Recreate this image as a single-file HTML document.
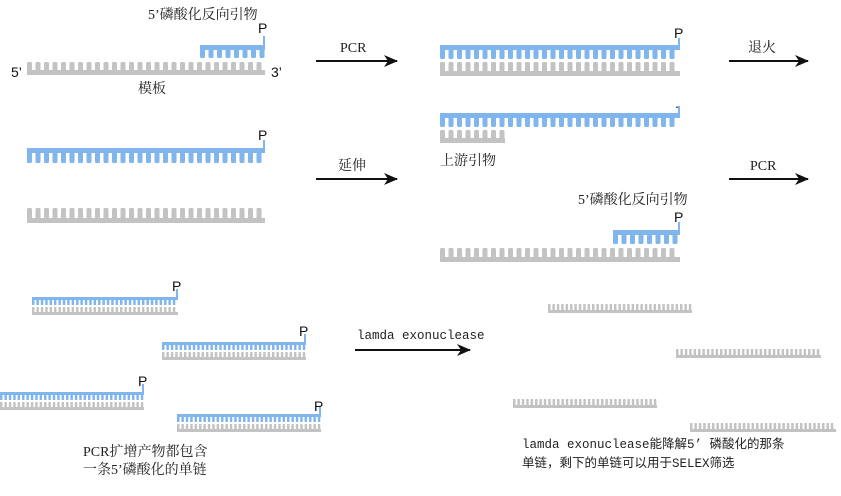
<!DOCTYPE html>
<html><head><meta charset="utf-8"><style>
html,body{margin:0;padding:0;background:#fff;width:841px;height:496px;overflow:hidden}
svg text{font-family:"Liberation Serif","Noto Serif CJK SC",serif;font-size:14px;fill:#222}
.p{font-family:"Liberation Sans",sans-serif;font-size:14px;fill:#111}
.m{font-family:"Liberation Mono","Noto Sans CJK SC",monospace;font-size:12.5px}
</style></head><body>
<svg id="s" width="841" height="496" xmlns="http://www.w3.org/2000/svg">
<defs><marker id="a" markerWidth="14" markerHeight="12" refX="13" refY="6" orient="auto" markerUnits="userSpaceOnUse"><path d="M0,0 L14,6 L0,12 L4,6 Z" fill="#111"/></marker></defs>
<g id="g"></g>
<g stroke="#111" stroke-width="2" marker-end="url(#a)">
<line x1="316" y1="61" x2="397" y2="61"/>
<line x1="729" y1="61" x2="808" y2="61"/>
<line x1="316" y1="179" x2="397" y2="179"/>
<line x1="729" y1="179" x2="808" y2="179"/>
<line x1="355" y1="350" x2="470" y2="350"/>
</g>
<text x="340" y="52">PCR</text>
<text x="748" y="52">退火</text>
<text x="338" y="170">延伸</text>
<text x="750" y="170">PCR</text>
<text class="m" x="357" y="339">lamda exonuclease</text>
<text x="148" y="19">5’磷酸化反向引物</text>
<text x="138" y="93">模板</text>
<text class="p" x="11" y="77">5’</text>
<text class="p" x="271" y="77">3’</text>
<text x="440" y="165">上游引物</text>
<text x="578" y="204">5’磷酸化反向引物</text>
<text x="83" y="456">PCR扩增产物都包含</text>
<text x="83" y="474">一条5’磷酸化的单链</text>
<text class="m" x="522" y="448">lamda exonuclease能降解5’ 磷酸化的那条</text>
<text class="m" x="522" y="467">单链，剩下的单链可以用于SELEX筛选</text>
<text class="p" x="258" y="33">P</text>
<text class="p" x="674" y="38">P</text>
<text class="p" x="258" y="140">P</text>
<text class="p" x="674" y="222">P</text>
<text class="p" x="675" y="108">.</text>
<text class="p" x="172" y="291">P</text>
<text class="p" x="299" y="336">P</text>
<text class="p" x="138" y="386">P</text>
<text class="p" x="314" y="411">P</text>
</svg>
<script>
var g=document.getElementById('g'),NS='http://www.w3.org/2000/svg';
function r(x,y,w,h,c,rx){var e=document.createElementNS(NS,'rect');e.setAttribute('x',x);e.setAttribute('y',y);e.setAttribute('width',w);e.setAttribute('height',h);e.setAttribute('fill',c);if(rx)e.setAttribute('rx',rx);g.appendChild(e);}
function comb(x1,x2,y,h,bb,per,tw,up,c){
 if(up){r(x1,y+h-bb,x2-x1,bb,c);for(var x=x1;x+tw<=x2+0.5;x+=per)r(x,y,tw,h-bb+1,c,tw>3?1.5:0.5);}
 else{r(x1,y,x2-x1,bb,c);for(var x=x1;x+tw<=x2+0.5;x+=per)r(x,y+bb-1,tw,h-bb+1,c,tw>3?1.5:0.5);}
}
var B='#80b5ee',G='#c3c3c3';
function line(x,y1,y2,c){r(x-1,y1,2,y2-y1,c);}
comb(27,265,62,13,5,8.5,5,1,G);
comb(200,265,45,13,5,8.5,5,0,B);line(264,36,50,B);
comb(440,680,45,14,5,8.5,5,0,B);line(679,38,50,B);
comb(440,680,62,14,5,8.5,5,1,G);
comb(27,265,148,15,5,8.5,5,0,B);line(264,140,150,B);
comb(27,265,208,15,5,8.5,5,1,G);
comb(440,680,113,14,5,8.5,5,0,B);line(679,106,118,B);
comb(440,505,130,13,5,8.5,5,1,G);
comb(613,680,230,14,5,8.5,5,0,B);line(679,222,235,B);
comb(440,680,248,14,5,8.5,5,1,G);
function pair(x1,x2,y,px){comb(x1,x2,y,8,3,4.4,2.5,0,B);comb(x1,x2,y+10,8,3,4.4,2.5,1,G);line(x2-1,y-8,y+3,B);}
pair(32,178,297);pair(162,306,342);pair(0,144,392);pair(177,321,414);
comb(548,692,304,9,3,4.4,2.5,1,G);
comb(676,821,349,9,3,4.4,2.5,1,G);
comb(513,657,399,9,3,4.4,2.5,1,G);
comb(690,836,423,9,3,4.4,2.5,1,G);
</script>
</body></html>
